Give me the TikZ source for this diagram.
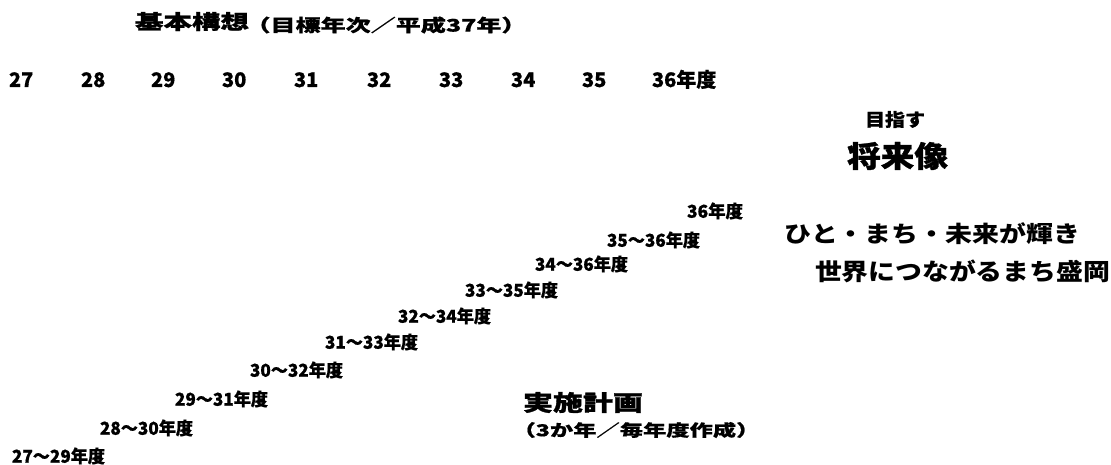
\documentclass[tikz,border=0pt]{standalone}
\usepackage{fontspec}
\setmainfont{Noto Sans CJK JP}
\newfontfamily\heavy{Noto Sans CJK JP}[BoldFeatures={FakeBold=1}]
\newfontfamily\semiheavy{Noto Sans CJK JP}[BoldFeatures={FakeBold=0.6}]
\usepackage{graphicx}
\newcommand{\fitbox}[3]{\resizebox*{#1pt}{#2pt}{\bfseries #3}}
\begin{document}
\begin{tikzpicture}[x=1pt,y=-1pt,
  every node/.style={inner sep=0pt, outer sep=0pt},
  yearlbl/.style={anchor=base west, font=\semiheavy\bfseries\fontsize{20}{20}\selectfont},
  fitlbl/.style={anchor=center, font=\semiheavy},
  bigfit/.style={anchor=center, font=\heavy},
  plainfit/.style={anchor=center, font=\normalfont}]
\useasboundingbox[fill=white] (0,0) rectangle (1111,465);
% title
\node[bigfit] (t1) at (192,21.5) {\fitbox{114}{19}{基本構想}};
\node[fitlbl] (t2) at (386,25) {\fitbox{281}{17}{（目標年次／平成37年）}};
% year row
\node[yearlbl] (y27) at (9,87) {27};
\node[yearlbl] (y28) at (81,87) {28};
\node[yearlbl] (y29) at (151,87) {29};
\node[yearlbl] (y30) at (222,87) {30};
\node[yearlbl] (y31) at (294,87) {31};
\node[yearlbl] (y32) at (367,87) {32};
\node[yearlbl] (y33) at (439,87) {33};
\node[yearlbl] (y34) at (511,87) {34};
\node[yearlbl] (y35) at (582,87) {35};
\node[yearlbl] (y36) at (652,87) {36年度};
% future image
\node[fitlbl] (mz) at (895,119.5) {\fitbox{60}{17}{目指す}};
\node[bigfit] (sy) at (897.5,156) {\fitbox{101}{28}{将来像}};
\node[plainfit] (v1) at (932.5,234) {\fitbox{295}{22}{ひと・まち・未来が輝き}};
\node[plainfit] (v2) at (962.5,271.5) {\fitbox{295}{23}{世界につながるまち盛岡}};
% implementation plans
\node[fitlbl] (r27) at (58.5,456) {\fitbox{93}{17}{27～29年度}};
\node[fitlbl] (r28) at (146.5,428) {\fitbox{93}{17}{28～30年度}};
\node[fitlbl] (r29) at (221.5,399) {\fitbox{93}{17}{29～31年度}};
\node[fitlbl] (r30) at (296.5,370) {\fitbox{93}{17}{30～32年度}};
\node[fitlbl] (r31) at (371.5,342) {\fitbox{93}{17}{31～33年度}};
\node[fitlbl] (r32) at (444.5,316) {\fitbox{93}{17}{32～34年度}};
\node[fitlbl] (r33) at (511.5,290) {\fitbox{93}{17}{33～35年度}};
\node[fitlbl] (r34) at (581.5,264) {\fitbox{93}{17}{34～36年度}};
\node[fitlbl] (r35) at (653.5,240) {\fitbox{93}{17}{35～36年度}};
\node[fitlbl] (r36) at (715,211) {\fitbox{56}{17}{36年度}};
\node[bigfit] (p1) at (583,402.5) {\fitbox{120}{21}{実施計画}};
\node[fitlbl] (p2) at (636,430) {\fitbox{247}{16}{（3か年／毎年度作成）}};
\end{tikzpicture}
\end{document}
